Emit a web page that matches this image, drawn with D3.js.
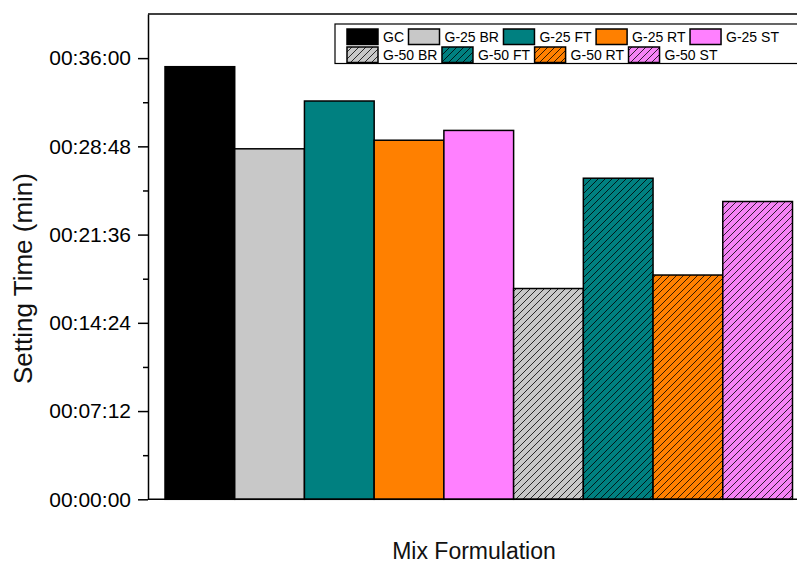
<!DOCTYPE html>
<html>
<head>
<meta charset="utf-8">
<script src="https://cdn.jsdelivr.net/npm/d3@7"></script>
<style>
  html, body { margin: 0; padding: 0; background: #fff; }
  svg { display: block; font-family: "Liberation Sans", Arial, sans-serif; }
</style>
</head>
<body>
<svg id="viz" width="797" height="564"></svg>
<script>
// mix formulations (bar order) and setting time in minutes
var categories = ["GC", "G-25 BR", "G-25 FT", "G-25 RT", "G-25 ST",
                  "G-50 BR", "G-50 FT", "G-50 RT", "G-50 ST"];
var settingMinutes = [35.3, 28.6, 32.5, 29.3, 30.1, 17.2, 26.2, 18.3, 24.3];
var barColors = ["#000000", "#c8c8c8", "#008080", "#ff8000", "#ff80ff",
                 "#c8c8c8", "#008080", "#ff8000", "#f583f5"];
var hatched = [false, false, false, false, false, true, true, true, true];
var legendRows = [["GC", "G-25 BR", "G-25 FT", "G-25 RT", "G-25 ST"],
                  ["G-50 BR", "G-50 FT", "G-50 RT", "G-50 ST"]];
var majorTicks = [0, 7.2, 14.4, 21.6, 28.8, 36];
var tickLabels = ["00:00:00", "00:07:12", "00:14:24", "00:21:36", "00:28:48", "00:36:00"];
var minorTicks = [3.6, 10.8, 18, 25.2, 32.4];

var svg = d3.select("#viz");
var frame = { left: 148, top: 14, bottom: 499.3, right: 809 };

var x = d3.scaleBand().domain(categories).range([165, 792.5]).padding(0);
var y = d3.scaleLinear().domain([0, 39.6]).range([frame.bottom, frame.top]);

// hatch patterns, one per colour
var defs = svg.append("defs");
categories.forEach(function (c, i) {
    if (!hatched[i]) return;
    var p = defs.append("pattern")
        .attr("id", "hatch" + i)
        .attr("patternUnits", "userSpaceOnUse")
        .attr("width", 7).attr("height", 7);
    p.append("rect").attr("width", 7).attr("height", 7).attr("fill", barColors[i]);
    p.append("path")
        .attr("d", "M-2,2 L2,-2 M0,7 L7,0 M5,9 L9,5")
        .attr("stroke", "#000").attr("stroke-width", 0.8);
});
function fillFor(i) { return hatched[i] ? "url(#hatch" + i + ")" : barColors[i]; }

// bars
svg.append("g").selectAll("rect")
    .data(settingMinutes)
    .enter().append("rect")
    .attr("x", function (d, i) { return x(categories[i]); })
    .attr("y", function (d) { return y(d); })
    .attr("width", x.bandwidth())
    .attr("height", function (d) { return y(0) - y(d); })
    .attr("fill", function (d, i) { return fillFor(i); })
    .attr("stroke", "#000")
    .attr("stroke-width", 1.5);

// frame lines (top and bottom run off the picture on the right)
svg.append("line").attr("x1", frame.left).attr("x2", 797)
    .attr("y1", frame.top).attr("y2", frame.top)
    .attr("stroke", "#000").attr("stroke-width", 1.5);
svg.append("line").attr("x1", frame.left).attr("x2", 797)
    .attr("y1", frame.bottom).attr("y2", frame.bottom)
    .attr("stroke", "#000").attr("stroke-width", 1.5);

// y axis
var yAxis = svg.append("g")
    .attr("transform", "translate(" + frame.left + ",0)")
    .call(d3.axisLeft(y)
        .tickValues(majorTicks)
        .tickFormat(function (d, i) { return tickLabels[i]; })
        .tickSize(10).tickPadding(7).tickSizeOuter(0));
yAxis.select(".domain").attr("stroke-width", 1.5);
yAxis.selectAll(".tick line").attr("stroke-width", 1.5);
yAxis.selectAll(".tick text")
    .attr("font-size", "21px")
    .attr("font-family", "Liberation Sans, Arial, sans-serif")
    .attr("fill", "#000");

var yMinor = svg.append("g")
    .attr("transform", "translate(" + frame.left + ",0)")
    .call(d3.axisLeft(y).tickValues(minorTicks).tickFormat("").tickSize(5).tickSizeOuter(0));
yMinor.select(".domain").remove();
yMinor.selectAll(".tick line").attr("stroke-width", 1.5);

// axis titles
svg.append("text")
    .attr("transform", "translate(32,278.5) rotate(-90)")
    .attr("text-anchor", "middle")
    .attr("font-size", "26px")
    .attr("fill", "#111")
    .text("Setting Time (min)");

svg.append("text")
    .attr("x", 474).attr("y", 559)
    .attr("text-anchor", "middle")
    .attr("font-size", "23px")
    .attr("fill", "#111")
    .text("Mix Formulation");

// legend
var legend = svg.append("g");
legend.append("rect")
    .attr("x", 335).attr("y", 24)
    .attr("width", 480).attr("height", 39.5)
    .attr("fill", "#fff").attr("stroke", "#000").attr("stroke-width", 1.2);

var rowY = [29, 47];
legendRows.forEach(function (row, r) {
    var cx = 347;
    row.forEach(function (name) {
        var i = categories.indexOf(name);
        legend.append("rect")
            .attr("x", cx).attr("y", rowY[r])
            .attr("width", 31).attr("height", 15.5)
            .attr("fill", fillFor(i))
            .attr("stroke", "#000").attr("stroke-width", 1.5);
        var t = legend.append("text")
            .attr("x", cx + 36).attr("y", rowY[r] + 13)
            .attr("font-size", "14px")
            .attr("fill", "#000")
            .text(name);
        cx += 36 + t.node().getComputedTextLength() + 4.5;
    });
});
</script>
</body>
</html>
